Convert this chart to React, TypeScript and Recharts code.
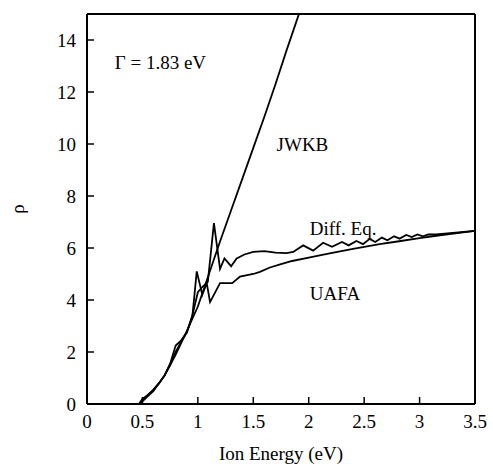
import { LineChart, Line, XAxis, YAxis, LabelList } from 'recharts';

// values
const xTicks = [0, 0.5, 1, 1.5, 2, 2.5, 3, 3.5];
const yTicks = [0, 2, 4, 6, 8, 10, 12, 14];

const jwkbEnergy = [0.47, 0.5, 0.6, 0.7, 0.8, 0.9, 1.0, 1.1, 1.2, 1.3, 1.4, 1.5, 1.6, 1.7, 1.8, 1.9, 2.0];
const jwkbRho = [0, 0.1, 0.5, 1.1, 1.9, 2.8, 3.75, 5.0, 6.25, 7.45, 8.65, 9.85, 11.05, 12.3, 13.6, 14.85, 16.1];

const diffEqEnergy = [
  0.47, 0.5, 0.55, 0.6, 0.65, 0.7, 0.75, 0.8, 0.85, 0.9, 0.95, 1.0, 1.04, 1.09, 1.145, 1.2, 1.24, 1.3,
  1.35, 1.42, 1.5, 1.6, 1.7, 1.8, 1.86, 1.95, 2.04, 2.13, 2.21, 2.3, 2.36, 2.43, 2.49, 2.55, 2.6, 2.66,
  2.71, 2.77, 2.82, 2.88, 2.93, 2.98, 3.03, 3.08, 3.15, 3.25, 3.35, 3.5,
];
const diffEqRho = [
  0, 0.2, 0.35, 0.55, 0.8, 1.1, 1.55, 2.25, 2.45, 2.75, 3.4, 4.3, 4.5, 4.7, 6.96, 5.2, 5.6, 5.3,
  5.6, 5.75, 5.85, 5.88, 5.82, 5.8, 5.85, 6.1, 5.9, 6.2, 6.05, 6.23, 6.1, 6.27, 6.15, 6.35, 6.23, 6.4,
  6.3, 6.45, 6.36, 6.5, 6.42, 6.52, 6.45, 6.52, 6.52, 6.56, 6.6, 6.66,
];

const uafaEnergy = [
  0.47, 0.5, 0.55, 0.6, 0.65, 0.7, 0.75, 0.8, 0.85, 0.9, 0.95, 0.99, 1.04, 1.08, 1.11, 1.2, 1.31, 1.38,
  1.5, 1.56, 1.65, 1.75, 1.85, 2.0, 2.2, 2.4, 2.64, 2.8, 3.0, 3.2, 3.5,
];
const uafaRho = [
  0, 0.15, 0.35, 0.55, 0.8, 1.1, 1.5, 2.0, 2.4, 2.75, 3.35, 5.1, 4.2, 4.65, 3.92, 4.65, 4.65, 4.9,
  5.0, 5.08, 5.25, 5.38, 5.5, 5.63, 5.8, 5.97, 6.15, 6.25, 6.38, 6.5, 6.66,
];

// in-plot annotations (data coordinates)
const noteText = ['\u0393 = 1.83 eV', 'JWKB', 'Diff. Eq.', 'UAFA'];
const noteEnergy = [0.25, 1.71, 2.01, 2.01];
const noteRho = [13.15, 10.0, 6.75, 4.27];

const RHO = '\u03C1';

const zip = (xs: number[], ys: number[]) => xs.map((x, i) => ({ x, y: ys[i] }));

const jwkbData = zip(jwkbEnergy, jwkbRho);
const diffEqData = zip(diffEqEnergy, diffEqRho);
const uafaData = zip(uafaEnergy, uafaRho);
const noteData = noteText.map((text, i) => ({ x: noteEnergy[i], y: noteRho[i], text }));

const FONT = 'Liberation Serif';
const FONT_SIZE = 19;
const TICK_LEN = 7;

// inward tick marks, drawn by hand so they point into the plot
const BottomTick = (props: any) => {
  const { x, y, payload } = props;
  return (
    <g>
      <line x1={x} x2={x} y1={y} y2={y - TICK_LEN} stroke="#000" strokeWidth={1.5} />
      <text x={x} y={y + 11} dy="0.71em" textAnchor="middle" fill="#000" fontFamily={FONT} fontSize={FONT_SIZE}>
        {payload.value}
      </text>
    </g>
  );
};

const LeftTick = (props: any) => {
  const { x, y, payload } = props;
  return (
    <g>
      <line x1={x} x2={x + TICK_LEN} y1={y} y2={y} stroke="#000" strokeWidth={1.5} />
      <text x={x - 11} y={y} dy="0.35em" textAnchor="end" fill="#000" fontFamily={FONT} fontSize={FONT_SIZE}>
        {payload.value}
      </text>
    </g>
  );
};

const TopTick = (props: any) => {
  const { x, y } = props;
  return <line x1={x} x2={x} y1={y} y2={y + TICK_LEN} stroke="#000" strokeWidth={1.5} />;
};

const RightTick = (props: any) => {
  const { x, y } = props;
  return <line x1={x} x2={x - TICK_LEN} y1={y} y2={y} stroke="#000" strokeWidth={1.5} />;
};

const XTitle = (props: any) => {
  const { viewBox } = props;
  return (
    <text
      x={viewBox.x + viewBox.width / 2}
      y={viewBox.y + viewBox.height - 6}
      textAnchor="middle"
      fill="#000"
      fontFamily={FONT}
      fontSize={FONT_SIZE}
    >
      Ion Energy (eV)
    </text>
  );
};

const YTitle = (props: any) => {
  const { viewBox } = props;
  const cx = viewBox.x + 17;
  const cy = viewBox.y + viewBox.height / 2;
  return (
    <text
      x={cx}
      y={cy}
      dy="0.35em"
      textAnchor="middle"
      transform={`rotate(-90, ${cx}, ${cy})`}
      fill="#000"
      fontFamily={FONT}
      fontSize={FONT_SIZE}
    >
      {RHO}
    </text>
  );
};

const NoteLabel = (props: any) => {
  const { x, y, value } = props;
  return (
    <text x={x} y={y} dy="0.35em" fill="#000" fontFamily={FONT} fontSize={FONT_SIZE}>
      {value}
    </text>
  );
};

export default function App() {
  return (
    <div style={{ position: 'absolute', left: 0, top: 0, background: '#fff' }}>
      <LineChart width={493} height={466} margin={{ top: 13, right: 17, bottom: 0, left: 0 }}>
        <XAxis
          dataKey="x"
          type="number"
          domain={[0, 3.5]}
          ticks={xTicks}
          height={62}
          axisLine={{ stroke: '#000', strokeWidth: 2 }}
          tickLine={false}
          tickSize={0}
          tickMargin={0}
          tick={<BottomTick />}
          label={<XTitle />}
        />
        <XAxis
          xAxisId="top"
          orientation="top"
          dataKey="x"
          type="number"
          domain={[0, 3.5]}
          ticks={xTicks}
          height={1}
          axisLine={{ stroke: '#000', strokeWidth: 2 }}
          tickLine={false}
          tickSize={0}
          tickMargin={0}
          tick={<TopTick />}
        />
        <YAxis
          type="number"
          domain={[0, 15]}
          allowDataOverflow
          ticks={yTicks}
          width={87}
          axisLine={{ stroke: '#000', strokeWidth: 2 }}
          tickLine={false}
          tickSize={0}
          tickMargin={0}
          tick={<LeftTick />}
          label={<YTitle />}
        />
        <YAxis
          yAxisId="right"
          orientation="right"
          type="number"
          domain={[0, 15]}
          ticks={yTicks}
          width={1}
          axisLine={{ stroke: '#000', strokeWidth: 2 }}
          tickLine={false}
          tickSize={0}
          tickMargin={0}
          tick={<RightTick />}
        />
        <Line data={jwkbData} dataKey="y" stroke="#000" strokeWidth={1.8} dot={false} isAnimationActive={false} />
        <Line data={diffEqData} dataKey="y" stroke="#000" strokeWidth={1.8} dot={false} isAnimationActive={false} />
        <Line data={uafaData} dataKey="y" stroke="#000" strokeWidth={1.8} dot={false} isAnimationActive={false} />
        <Line
          data={noteData}
          dataKey="y"
          stroke="none"
          dot={false}
          activeDot={false}
          isAnimationActive={false}
        >
          <LabelList dataKey="text" content={<NoteLabel />} />
        </Line>
      </LineChart>
    </div>
  );
}
